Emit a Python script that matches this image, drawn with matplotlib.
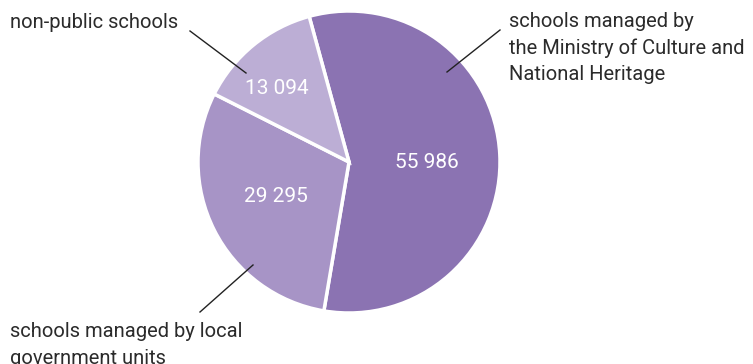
import matplotlib
matplotlib.use("Agg")
import matplotlib.pyplot as plt

# School counts by type of governing body
categories = [
    "schools managed by\nthe Ministry of Culture and\nNational Heritage",
    "schools managed by local\ngovernment units",
    "non-public schools",
]
values = [55986, 29295, 13094]
value_labels = ["55 986", "29 295", "13 094"]
colors = ["#8b73b2", "#a794c6", "#bcaed5"]

plt.rcParams["font.family"] = ["Roboto", "DejaVu Sans"]

W, H = 753, 364
fig = plt.figure(figsize=(W / 100, H / 100), dpi=100)
ax = fig.add_axes([0, 0, 1, 1])

cx, cy, r = 349, H - 162, 151

ax.pie(
    values,
    colors=colors,
    startangle=105.3,
    counterclock=False,
    center=(cx, cy),
    radius=r,
    wedgeprops=dict(edgecolor="white", linewidth=2.5),
    frame=True,
)
ax.set_xlim(0, W)
ax.set_ylim(0, H)
ax.set_aspect("equal")
ax.axis("off")

# value labels inside wedges
label_pos = [(427, 162), (276, 196), (277, 88)]
for (x, y), t in zip(label_pos, value_labels):
    ax.text(x, H - y, t, color="white", fontsize=15, ha="center",
            va="center")

text_color = "#2b2b2b"
line_color = "#222222"
step = 26.5


def draw_label(text, x, first_baseline):
    for i, line in enumerate(text.split("\n")):
        ax.text(x, H - (first_baseline + i * step), line, ha="left",
                va="baseline", fontsize=14.5, color=text_color)


# category labels with leader lines
draw_label(categories[0], 509, 27)
ax.plot([447, 500], [H - 72, H - 30], color=line_color, lw=1)

draw_label(categories[1], 10, 337)
ax.plot([253, 200], [H - 265, H - 312], color=line_color, lw=1)

draw_label(categories[2], 10, 28)
ax.plot([246, 190], [H - 73, H - 31], color=line_color, lw=1)

fig.savefig("out.png", dpi=100, facecolor="white")
